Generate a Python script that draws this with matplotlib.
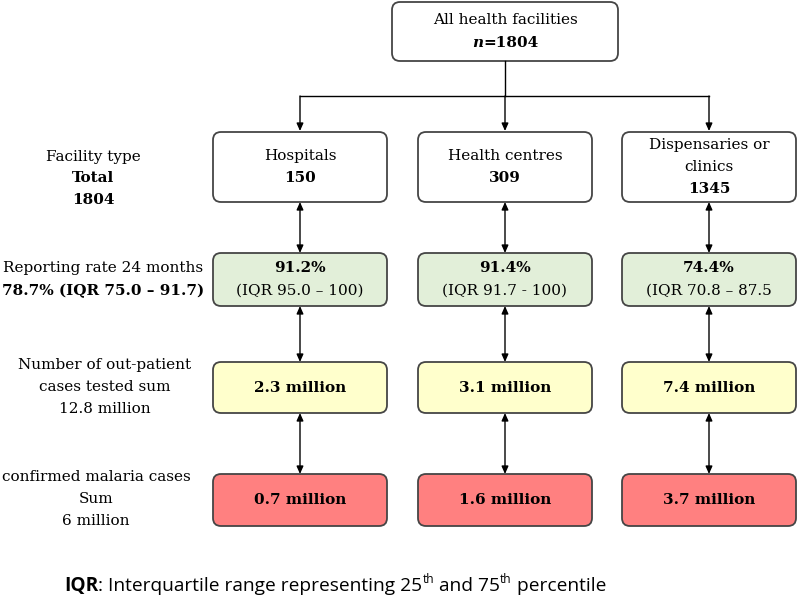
import matplotlib.pyplot as plt
from matplotlib.patches import FancyBboxPatch

# data
facility_types = ["Hospitals", "Health centres", "Dispensaries or\nclinics"]
facility_counts = [150, 309, 1345]
total_facilities = 1804
report_rates = ["91.2%", "91.4%", "74.4%"]
report_iqr = ["(IQR 95.0 – 100)", "(IQR 91.7 - 100)", "(IQR 70.8 – 87.5"]
tested = ["2.3 million", "3.1 million", "7.4 million"]
confirmed = ["0.7 million", "1.6 million", "3.7 million"]

row_labels = [
    ("Facility type", "Total", str(total_facilities)),
    ("Reporting rate 24 months", "78.7% (IQR 75.0 – 91.7)"),
    ("Number of out-patient", "cases tested sum", "12.8 million"),
    ("confirmed malaria cases", "Sum", "6 million"),
]

W, H = 797, 604
fig = plt.figure(figsize=(W / 100, H / 100), dpi=100)
ax = fig.add_axes([0, 0, 1, 1])
ax.set_xlim(0, W)
ax.set_ylim(H, 0)
ax.axis("off")

serif = "DejaVu Serif"
fs = 11
edge = "#454545"


def box(x0, y0, x1, y1, fc):
    p = FancyBboxPatch((x0 + 8, y0 + 8), x1 - x0 - 16, y1 - y0 - 16,
                       boxstyle="round,pad=8", fc=fc, ec=edge, lw=1.3)
    ax.add_patch(p)


def arrow(x, y0, y1, both=True):
    style = "<|-|>" if both else "-|>"
    ax.annotate("", xy=(x, y1), xytext=(x, y0),
                arrowprops=dict(arrowstyle=style + ",head_length=0.45,head_width=0.2",
                                color="black", lw=1.0, shrinkA=0, shrinkB=0))


def text_run(x, y, pieces, **kw):
    # pieces: (text, dy, props) drawn one after another along a baseline
    renderer = fig.canvas.get_renderer()
    for txt, dy, props in pieces:
        t = ax.text(x, y + dy, txt, ha="left", va="baseline", **{**kw, **props})
        bb = t.get_window_extent(renderer)
        x += bb.width


def centered_run(cxp, y, pieces, **kw):
    renderer = fig.canvas.get_renderer()
    width = 0
    for txt, dy, props in pieces:
        t = ax.text(0, 0, txt, **{**kw, **props})
        width += t.get_window_extent(renderer).width
        t.remove()
    text_run(cxp - width / 2, y, pieces, **kw)


# top box
box(392, 2, 618, 61, "white")
ax.text(505, 20, "All health facilities", ha="center", va="center",
        fontsize=fs, family=serif)
centered_run(505, 47, [("n", 0, dict(style="italic", fontweight="bold")),
                       ("=" + str(total_facilities), 0, dict(fontweight="bold"))],
             fontsize=fs, family=serif)

cx = [300, 505, 709]
ax.plot([505, 505], [61, 96], color="black", lw=1.0)
ax.plot([cx[0], cx[2]], [96, 96], color="black", lw=1.0)
for x in cx:
    arrow(x, 96, 131, both=False)

half_w = 87
rows = [(132, 202, "white"), (253, 306, "#e2efd9"), (362, 413, "#ffffcc"), (474, 526, "#ff8080")]

for i, x in enumerate(cx):
    for (y0, y1, fc) in rows:
        box(x - half_w, y0, x + half_w, y1, fc)
    lines = facility_types[i].split("\n")
    if len(lines) == 1:
        ax.text(x, 156, lines[0], ha="center", va="center", fontsize=fs, family=serif)
        ax.text(x, 178, str(facility_counts[i]), ha="center", va="center",
                fontsize=fs, family=serif, fontweight="bold")
    else:
        ax.text(x, 145, lines[0], ha="center", va="center", fontsize=fs, family=serif)
        ax.text(x, 167, lines[1], ha="center", va="center", fontsize=fs, family=serif)
        ax.text(x, 189, str(facility_counts[i]), ha="center", va="center",
                fontsize=fs, family=serif, fontweight="bold")
    ax.text(x, 268, report_rates[i], ha="center", va="center", fontsize=fs,
            family=serif, fontweight="bold")
    ax.text(x, 291, report_iqr[i], ha="center", va="center", fontsize=fs, family=serif)
    ax.text(x, 388, tested[i], ha="center", va="center", fontsize=fs,
            family=serif, fontweight="bold")
    ax.text(x, 500, confirmed[i], ha="center", va="center", fontsize=fs,
            family=serif, fontweight="bold")
    arrow(x, 202, 253)
    arrow(x, 306, 362)
    arrow(x, 413, 474)

# left labels
lab_pos = [(93, [157, 178, 200], [False, True, True]),
           (103, [268, 291], [False, True]),
           (105, [365, 387, 409], [False, False, False]),
           (96, [477, 499, 521], [False, False, False])]
for (lx, ys, bolds), lines in zip(lab_pos, row_labels):
    for y, b, t in zip(ys, bolds, lines):
        ax.text(lx, y, t, ha="center", va="center", fontsize=fs, family=serif,
                fontweight="bold" if b else "normal")

# footer
ffs = 13.8
small = dict(fontsize=ffs * 0.62)
text_run(64, 591, [("IQR", 0, dict(fontweight="bold")),
                   (": Interquartile range representing 25", 0, {}),
                   ("th", -8, small),
                   (" and 75", 0, {}),
                   ("th", -8, small),
                   (" percentile", 0, {})],
         fontsize=ffs, family="Open Sans")

fig.savefig("out.png", dpi=100)
